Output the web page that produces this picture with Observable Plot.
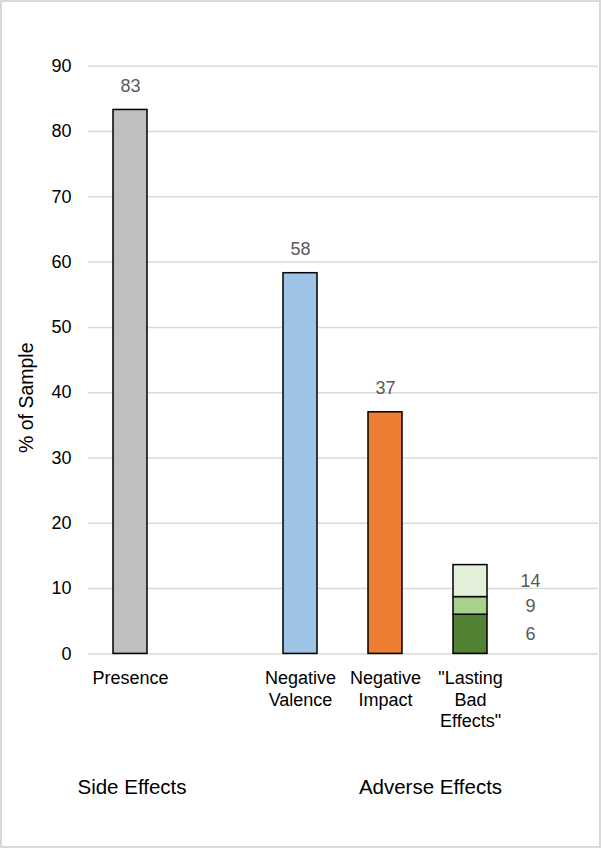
<!DOCTYPE html>
<html>
<head>
<meta charset="utf-8">
<script src="https://cdn.jsdelivr.net/npm/d3@7"></script>
<script src="https://cdn.jsdelivr.net/npm/@observablehq/plot@0.6"></script>
<style>
  body { margin: 0; background: #fff; }
  #wrap { position: relative; width: 601px; height: 848px; overflow: hidden; font-family: "Liberation Sans", Arial, sans-serif; }
  #frame { position: absolute; left: 0; top: 0; width: 601px; height: 848px; box-sizing: border-box; border: 2px solid #d9d9d9; pointer-events: none; }
  .group { position: absolute; font-size: 20.5px; line-height: 24px; color: #000; transform: translateX(-50%); white-space: nowrap; }
</style>
</head>
<body>
<div id="wrap">
  <div id="chart"></div>
  <div id="frame"></div>
</div>
<script>
// Categories (slots on the x axis; two empty slots as in the original)
const categories = ["Presence", "gap", "Negative Valence", "Negative Impact", "Lasting Bad Effects", "end"];
const tickLabels = ["Presence", "", "Negative\nValence", "Negative\nImpact", "\"Lasting\nBad\nEffects\"", ""];

// Single bars
const barCategories = ["Presence", "Negative Valence", "Negative Impact"];
const barValues = [83.3, 58.3, 37.0];
const barLabels = ["83", "58", "37"];
const barColors = ["#bfbfbf", "#9dc3e6", "#ed7d31"];

// Stacked "Lasting Bad Effects" bar (cumulative tops)
const stackCategory = "Lasting Bad Effects";
const stackTops = [6.0, 8.7, 13.6];
const stackLabels = ["6", "9", "14"];
const stackColors = ["#548235", "#a9d18e", "#e2f0d9"];

// Axis
const yTicks = [0, 10, 20, 30, 40, 50, 60, 70, 80, 90];
const yLabel = "% of Sample";

// Group labels
const groupLabels = ["Side Effects", "Adverse Effects"];

const bars = barCategories.map((c, i) => ({cat: c, value: barValues[i], label: barLabels[i], color: barColors[i]}));
const stack = stackTops.map((t, i) => ({cat: stackCategory, y1: i === 0 ? 0 : stackTops[i - 1], y2: t, label: stackLabels[i], color: stackColors[i]}));

const fmt = new Map(categories.map((c, i) => [c, tickLabels[i]]));

const chart = Plot.plot({
  width: 601,
  height: 848,
  marginTop: 65.7,
  marginBottom: 194.6,
  marginLeft: 88,
  marginRight: 3,
  style: {fontFamily: "'Liberation Sans', Arial, sans-serif", fontSize: "18px", color: "#000", background: "transparent"},
  x: {domain: categories, paddingInner: 0.6, paddingOuter: 0.3, label: null},
  y: {domain: [0, 90], label: null},
  marks: [
    Plot.gridY(yTicks, {stroke: "#d9d9d9", strokeOpacity: 1, strokeWidth: 1.5}),
    Plot.axisY({ticks: yTicks, tickSize: 0, tickPadding: 17, label: null, fill: "#000", fontSize: 18}),
    Plot.axisX({tickSize: 0, tickPadding: 15, label: null, tickFormat: d => fmt.get(d), lineHeight: 1.2, fill: "#000", fontSize: 18}),
    Plot.barY(bars, {x: "cat", y: "value", fill: "color", stroke: "#000", strokeWidth: 1.5}),
    Plot.barY(stack, {x: "cat", y1: "y1", y2: "y2", fill: "color", stroke: "#000", strokeWidth: 1.5}),
    Plot.text(bars, {x: "cat", y: "value", text: "label", dy: -24, fill: "#595959", fontSize: 18}),
    Plot.text(stack, {x: "cat", y: d => (d.y1 + d.y2) / 2, text: "label", dx: 60, dy: 0, fill: "#595959", fontSize: 18}),
    Plot.text([yLabel], {frameAnchor: "left", text: d => d, rotate: -90, dx: -62, dy: 93, fill: "#000", fontSize: 19.5})
  ]
});
document.getElementById("chart").appendChild(chart);

// Group labels below the axis
const wrap = document.getElementById("wrap");
const xs = chart.scale("x");
const groupX = [xs.apply("Presence") + xs.bandwidth / 2 + 2, (xs.apply("Negative Impact") + xs.apply(stackCategory)) / 2 + xs.bandwidth / 2 + 3];
groupLabels.forEach((g, i) => {
  const d = document.createElement("div");
  d.className = "group";
  d.textContent = g;
  d.style.left = groupX[i] + "px";
  d.style.top = "775px";
  wrap.appendChild(d);
});
</script>
</body>
</html>
